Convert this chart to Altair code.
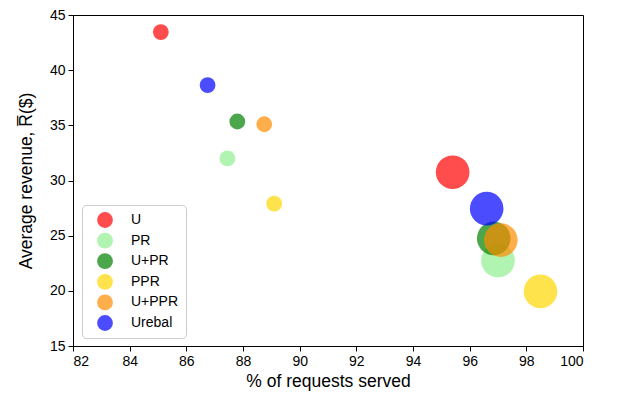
import altair as alt
import pandas as pd

labels = ["U", "PR", "U+PR", "PPR", "U+PPR", "Urebal"]
colors = ["red", "lightgreen", "green", "gold", "darkorange", "blue"]

# small-bubble group
small_x = [85.1, 87.45, 87.8, 89.1, 88.75, 86.75]
small_y = [43.45, 32.0, 35.35, 27.9, 35.1, 38.65]
# large-bubble group
large_x = [95.4, 97.0, 96.85, 98.5, 97.1, 96.6]
large_y = [30.75, 22.75, 24.75, 19.95, 24.6, 27.45]
sizes = [250, 1130]

rows = []
for i, lab in enumerate(labels):
    rows.append({"label": lab, "x": small_x[i], "y": small_y[i], "s": sizes[0], "order": i})
for i, lab in enumerate(labels):
    rows.append({"label": lab, "x": large_x[i], "y": large_y[i], "s": sizes[1], "order": i})
df = pd.DataFrame(rows)

font = "Liberation Sans"

chart = alt.Chart(df).mark_circle(opacity=0.7).encode(
    x=alt.X("x:Q", scale=alt.Scale(domain=[82, 100], nice=False, zero=False),
            axis=alt.Axis(values=list(range(82, 101, 2)), title="% of requests served",
                          titlePadding=4)),
    y=alt.Y("y:Q", scale=alt.Scale(domain=[15, 45], nice=False, zero=False),
            axis=alt.Axis(values=list(range(15, 46, 5)), title="Average revenue, R\u0305($)",
                          titlePadding=14)),
    color=alt.Color("label:N", scale=alt.Scale(domain=labels, range=colors),
                    legend=alt.Legend(title=None, orient="none", legendX=9, legendY=190,
                                      symbolType="circle", symbolSize=250, symbolOpacity=0.7,
                                      symbolStrokeWidth=0, labelFontSize=14, labelFont=font,
                                      labelOffset=18, rowPadding=4.6, padding=7, symbolOffset=8,
                                      fillColor="white", strokeColor="#cccccc", cornerRadius=4)),
    size=alt.Size("s:Q", scale=None, legend=None),
    order=alt.Order("order:Q"),
).properties(
    width=510, height=331,
    autosize=alt.AutoSizeParams(type="none"),
    padding={"left": 65, "top": 7, "right": 20, "bottom": 50},
).configure_view(stroke="black", strokeWidth=1).configure_axis(
    grid=False, domainColor="black", tickColor="black", tickSize=5,
    labelFont=font, labelFontSize=14, labelColor="black", labelPadding=3,
    titleFont=font, titleFontSize=17.5, titleFontWeight="normal", titleColor="black",
)

chart.save("out.html", embed_options={"renderer": "svg", "actions": False})
